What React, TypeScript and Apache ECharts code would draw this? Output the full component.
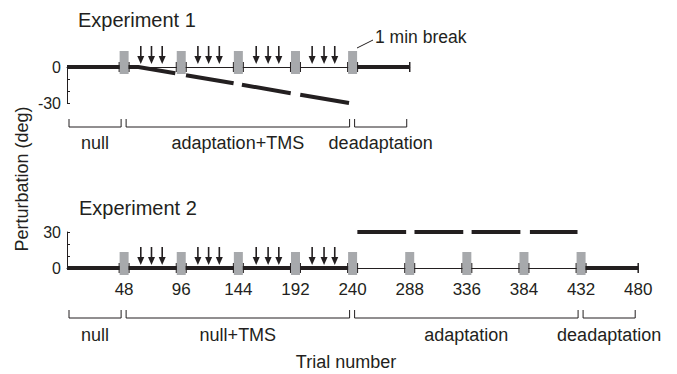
import React, { useEffect, useRef } from 'react';
import * as echarts from 'echarts';

// ---- data ----
const exp1Blocks = [48, 96, 144, 192, 240];
const exp2Blocks = [48, 96, 144, 192, 240, 288, 336, 384, 432];
const tmsTrials = [62, 71, 80, 110, 119, 128, 159, 169, 178, 206, 216, 225];
const exp1EndTicks = [288];
const exp2EndTicks = [480];

// Experiment 1 perturbation segments (trial, deg)
const exp1Seg1 = [[0, 0], [60, 0], [91, -5.2]];
const exp1Seg2 = [[100, -6.8], [140, -13.6]];
const exp1Seg3 = [[147, -14.8], [188, -21.8]];
const exp1Seg4 = [[196, -23.2], [237, -30]];
const exp1Seg5 = [[240, 0], [288, 0]];

// Experiment 2 perturbation segments
const exp2Seg1 = [[0, 0], [240, 0]];
const exp2Seg2 = [[432, 0], [480, 0]];
const exp2Dash1 = [[244, 30], [285, 30]];
const exp2Dash2 = [[292, 30], [333, 30]];
const exp2Dash3 = [[340, 30], [381, 30]];
const exp2Dash4 = [[389, 29.99], [429, 29.99]];

const exp1PhaseNames = ['null', 'adaptation+TMS', 'deadaptation'];
const exp1PhaseStart = [0, 48, 240];
const exp1PhaseEnd = [48, 240, 288];
const exp2PhaseNames = ['null', 'null+TMS', 'adaptation', 'deadaptation'];
const exp2PhaseStart = [0, 48, 240, 432];
const exp2PhaseEnd = [48, 240, 432, 480];

const exp1YLabels = [0, -30];
const exp2YLabels = [0, 30];

const INK = '#231f20';
const GRAY = '#a7a9ac';
const FONT = '"Liberation Sans", Arial, Helvetica, sans-serif';

function thick(data: number[][], xi: number) {
  return {
    type: 'line',
    xAxisIndex: xi,
    yAxisIndex: xi,
    data,
    symbol: 'none',
    lineStyle: { color: INK, width: 4, cap: 'butt', join: 'miter' },
    z: 2,
    silent: true,
  };
}

function blocks(data: number[], xi: number) {
  return {
    type: 'custom',
    xAxisIndex: xi,
    yAxisIndex: xi,
    data: data.map((t) => [t, 0]),
    z: 4,
    silent: true,
    renderItem: (params: any, api: any) => {
      const p = api.coord([api.value(0), 0]);
      return {
        type: 'group',
        children: [
          { type: 'rect', shape: { x: p[0] - 4.5, y: p[1] - 16, width: 9, height: 23 }, style: { fill: GRAY } },
          { type: 'line', shape: { x1: p[0] - 5, y1: p[1] - 5, x2: p[0] - 5, y2: p[1] + 5 }, style: { stroke: INK, lineWidth: 1 } },
          { type: 'line', shape: { x1: p[0] + 5, y1: p[1] - 5, x2: p[0] + 5, y2: p[1] + 5 }, style: { stroke: INK, lineWidth: 1 } },
        ],
      };
    },
  };
}

function endTicks(data: number[], xi: number) {
  return {
    type: 'custom',
    xAxisIndex: xi,
    yAxisIndex: xi,
    data: data.map((t) => [t, 0]),
    z: 4,
    silent: true,
    renderItem: (params: any, api: any) => {
      const p = api.coord([api.value(0), 0]);
      return { type: 'line', shape: { x1: p[0], y1: p[1] - 5, x2: p[0], y2: p[1] + 5 }, style: { stroke: INK, lineWidth: 1.5 } };
    },
  };
}

function arrows(data: number[], xi: number) {
  return {
    type: 'custom',
    xAxisIndex: xi,
    yAxisIndex: xi,
    data: data.map((t) => [t, 0]),
    z: 4,
    silent: true,
    renderItem: (params: any, api: any) => {
      const p = api.coord([api.value(0), 0]);
      const x = p[0];
      const y = p[1];
      return {
        type: 'group',
        children: [
          { type: 'line', shape: { x1: x, y1: y - 21, x2: x, y2: y - 10 }, style: { stroke: INK, lineWidth: 1.6 } },
          { type: 'polygon', shape: { points: [[x - 3.5, y - 11], [x + 3.5, y - 11], [x, y - 3]] }, style: { fill: INK } },
        ],
      };
    },
  };
}

function brackets(names: string[], starts: number[], ends: number[], xi: number, dy: number, labelDy: number) {
  return {
    type: 'custom',
    xAxisIndex: xi,
    yAxisIndex: xi,
    data: starts.map((s, i) => [s, ends[i]]),
    z: 4,
    silent: true,
    clip: false,
    renderItem: (params: any, api: any) => {
      const a = api.coord([api.value(0), 0]);
      const b = api.coord([api.value(1), 0]);
      const x1 = a[0] + 2;
      const x2 = b[0] - 3;
      const y = a[1] + dy;
      return {
        type: 'group',
        children: [
          {
            type: 'polyline',
            shape: { points: [[x1, y - 8], [x1, y], [x2, y], [x2, y - 8]] },
            style: { stroke: INK, lineWidth: 1, fill: 'none' },
          },
          {
            type: 'text',
            x: (x1 + x2) / 2,
            y: a[1] + labelDy,
            style: {
              text: names[params.dataIndex],
              fontSize: 18,
              fontFamily: FONT,
              fill: INK,
              align: 'center',
              verticalAlign: 'middle',
              textAlign: 'center',
              textVerticalAlign: 'middle',
            },
          },
        ],
      };
    },
  };
}

function txt(text: string, x: number, y: number, size: number, align = 'left', rotation = 0) {
  return {
    type: 'text',
    x,
    y,
    rotation,
    silent: true,
    style: {
      text,
      fontSize: size,
      fontFamily: FONT,
      fill: INK,
      align,
      verticalAlign: 'middle',
      textAlign: align,
      textVerticalAlign: 'middle',
    },
  };
}

export default function App() {
  const ref = useRef<HTMLDivElement>(null);
  useEffect(() => {
    if (!ref.current) return;
    const chart = echarts.init(ref.current, undefined, { renderer: 'svg' });
    const PX = 1.19;
    const axisLineStyle = { show: true, onZero: true, lineStyle: { color: INK, width: 1 } };
    chart.setOption({
      animation: false,
      backgroundColor: '#fff',
      grid: [
        { left: 67, top: 67, width: 288 * PX, height: 36 },
        { left: 67, top: 232, width: 480 * PX, height: 36 },
      ],
      xAxis: [
        {
          type: 'value', gridIndex: 0, min: 0, max: 288, interval: 48,
          axisLine: axisLineStyle, axisTick: { show: false }, axisLabel: { show: false }, splitLine: { show: false },
        },
        {
          type: 'value', gridIndex: 1, min: 0, max: 480, interval: 48,
          axisLine: axisLineStyle, axisTick: { show: false }, splitLine: { show: false },
          axisLabel: {
            formatter: (v: number) => (v === 0 ? '' : String(v)),
            fontSize: 17, fontFamily: FONT, color: INK, margin: 13, showMaxLabel: true,
          },
        },
      ],
      yAxis: [
        {
          type: 'value', gridIndex: 0, min: -30, max: 0, interval: 10,
          axisLine: axisLineStyle,
          axisTick: { show: true, inside: true, length: 3, lineStyle: { color: INK } },
          splitLine: { show: false },
          axisLabel: {
            formatter: (v: number) => (exp1YLabels.includes(v) ? String(v) : ''),
            fontSize: 16, fontFamily: FONT, color: INK, margin: 6,
          },
        },
        {
          type: 'value', gridIndex: 1, min: 0, max: 30, interval: 10,
          axisLine: axisLineStyle,
          axisTick: { show: true, inside: true, length: 3, lineStyle: { color: INK } },
          splitLine: { show: false },
          axisLabel: {
            formatter: (v: number) => (exp2YLabels.includes(v) ? String(v) : ''),
            fontSize: 16, fontFamily: FONT, color: INK, margin: 6,
          },
        },
      ],
      series: [
        thick(exp1Seg1, 0), thick(exp1Seg2, 0), thick(exp1Seg3, 0), thick(exp1Seg4, 0), thick(exp1Seg5, 0),
        thick(exp2Seg1, 1), thick(exp2Seg2, 1),
        thick(exp2Dash1, 1), thick(exp2Dash2, 1), thick(exp2Dash3, 1), thick(exp2Dash4, 1),
        blocks(exp1Blocks, 0), blocks(exp2Blocks, 1),
        endTicks(exp1EndTicks, 0), endTicks(exp2EndTicks, 1),
        arrows(tmsTrials, 0), arrows(tmsTrials, 1),
        brackets(exp1PhaseNames, exp1PhaseStart, exp1PhaseEnd, 0, 60, 76),
        brackets(exp2PhaseNames, exp2PhaseStart, exp2PhaseEnd, 1, 50, 67),
      ],
      graphic: [
        txt('Experiment 1', 78, 20, 20),
        txt('Experiment 2', 79, 208, 20),
        txt('1 min break', 375, 37, 17.5),
        { type: 'line', silent: true, shape: { x1: 357, y1: 48, x2: 373, y2: 40 }, style: { stroke: INK, lineWidth: 1 } },
        txt('Perturbation (deg)', 22, 179, 18, 'center', Math.PI / 2),
        txt('Trial number', 346, 362, 18, 'center'),
      ],
    });
    return () => chart.dispose();
  }, []);
  return (
    <div
      ref={ref}
      style={{ position: 'fixed', left: 0, top: 0, width: 677, height: 374, background: '#fff' }}
    />
  );
}
